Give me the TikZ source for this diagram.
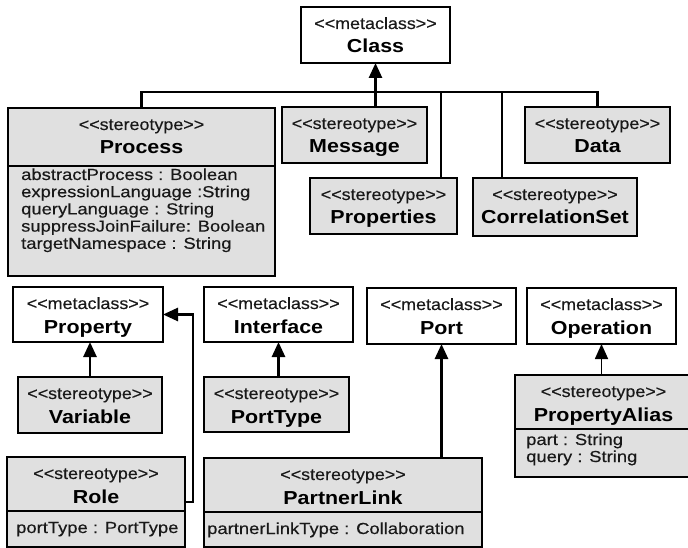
\documentclass[tikz,border=0pt]{standalone}
\usepackage{fontspec}
\setmainfont{Liberation Sans}
\newfontfamily\stfont{Liberation Sans}[FakeStretch=1.1, FakeBold=0.35]
\newfontfamily\namefont{Liberation Sans}[FakeStretch=1.14]
\newfontfamily\attrfont{Liberation Sans}[FakeStretch=1.15, FakeBold=0.35]
\usetikzlibrary{arrows.meta,calc}
\definecolor{boxgray}{RGB}{224,224,224}
\definecolor{txt}{RGB}{25,25,25}
\begin{document}
\begin{tikzpicture}[x=1pt,y=-1pt,
 box/.style={draw=black, inner sep=0pt, outer sep=0pt, rectangle, anchor=north west},
 meta/.style={box, fill=white, line width=1.3pt},
 stereo/.style={box, fill=boxgray, line width=1.8pt},
 stereothick/.style={box, fill=boxgray, line width=2.8pt},
 divider/.style={draw=black, line width=1.5pt},
 sttext/.style={anchor=base, inner sep=0pt, font=\stfont\fontsize{16.3}{19}\selectfont, text=txt},
 nametext/.style={anchor=base, inner sep=0pt, font=\namefont\fontsize{18.8}{22}\selectfont\bfseries, text=black},
 attrtext/.style={anchor=base west, inner sep=0pt, font=\attrfont\fontsize{16}{19}\selectfont, text=txt},
 conn/.style={draw=black, line width=2.6pt},
 gen/.style={conn, -{Triangle[width=13pt,length=15pt]}},
 thin gen/.style={draw=black, line width=1.6pt, -{Triangle[width=13pt,length=15pt]}},
]
\useasboundingbox (0,0) rectangle (688,548);

% ---------- boxes ----------
\node[meta, minimum width=149pt, minimum height=56pt] (class) at (301,7) {};
\node[stereothick, minimum width=267pt, minimum height=168pt] (process) at (8,108) {};
\node[stereo, minimum width=145pt, minimum height=56pt] (message) at (282,107) {};
\node[stereo, minimum width=147pt, minimum height=56pt] (properties) at (310,178) {};
\node[stereo, minimum width=164pt, minimum height=58pt] (correlationset) at (473,178) {};
\node[stereo, minimum width=145pt, minimum height=56pt] (data) at (525,107) {};

\node[meta, minimum width=150pt, minimum height=55pt] (property) at (13,287) {};
\node[meta, minimum width=149pt, minimum height=55pt] (interface) at (204,287) {};
\node[meta, minimum width=149pt, minimum height=56pt] (port) at (367,288) {};
\node[meta, minimum width=149pt, minimum height=56pt] (operation) at (527,288) {};
\node[stereo, minimum width=144pt, minimum height=56pt] (variable) at (18,377) {};
\node[stereo, minimum width=145pt, minimum height=55pt] (porttype) at (204,377) {};
\node[stereothick, minimum width=178pt, minimum height=90pt] (role) at (7,457) {};
\node[stereothick, minimum width=278pt, minimum height=89pt] (partnerlink) at (204,458) {};
\node[stereothick, minimum width=177pt, minimum height=102pt] (propertyalias) at (515,375) {};

% ---------- dividers ----------
\draw[divider] ($(process.north west)+(0,58)$) -- ($(process.north east)+(0,58)$);
\draw[divider] ($(role.north west)+(0,54)$) -- ($(role.north east)+(0,54)$);
\draw[divider] ($(partnerlink.north west)+(0,54)$) -- ($(partnerlink.north east)+(0,54)$);
\draw[divider] ($(propertyalias.north west)+(0,54)$) -- ($(propertyalias.north east)+(0,54)$);

% ---------- headings ----------
\foreach \n/\s/\t in {class/metaclass/Class, process/stereotype/Process, message/stereotype/Message,
  properties/stereotype/Properties, correlationset/stereotype/CorrelationSet, data/stereotype/Data,
  property/metaclass/Property, interface/metaclass/Interface, port/metaclass/Port,
  operation/metaclass/Operation, variable/stereotype/Variable, porttype/stereotype/PortType,
  role/stereotype/Role, partnerlink/stereotype/PartnerLink, propertyalias/stereotype/PropertyAlias}{
  \node[sttext] (\n-st) at ($(\n.north)+(0,22)$) {<{}<\s>{}>};
  \node[nametext] (\n-name) at ($(\n.north)+(0,46)$) {\t};
}

% ---------- attributes ----------
\foreach \a [count=\i] in {abstractProcess : Boolean, expressionLanguage :String,
  queryLanguage : String, suppressJoinFailure: Boolean, targetNamespace : String}
  \node[attrtext] (process-a\i) at ({21},{180+(\i-1)*17.2}) {\a};
\node[attrtext] (role-a1) at (16,533) {portType : PortType};
\node[attrtext] (partnerlink-a1) at (207,534) {partnerLinkType : Collaboration};
\node[attrtext] (propertyalias-a1) at (526,445) {part : String};
\node[attrtext] (propertyalias-a2) at (526,462) {query : String};

% ---------- connectors ----------
\coordinate (bus) at (375,92);
\coordinate (propdrop) at ($(properties.north west)+(131,0)$);
\coordinate (corrdrop) at ($(correlationset.north west)+(29,0)$);
\draw[conn] (process.north) |- (bus) -| (data.north);
\draw[conn] (propdrop) -- (propdrop |- bus);
\draw[conn] (corrdrop) -- (corrdrop |- bus);
\draw[gen] (class.south |- message.north) -- (class.south);

\draw[gen] (variable.north) -- (variable.north |- property.south);
\draw[gen] (role.east) -- ++(8,0) |- (property.east);
\draw[gen] (interface.south |- porttype.north) -- (interface.south);
\draw[gen] (port.south |- partnerlink.north) -- (port.south);
\draw[thin gen] (operation.south |- propertyalias.north) -- (operation.south);
\end{tikzpicture}
\end{document}
